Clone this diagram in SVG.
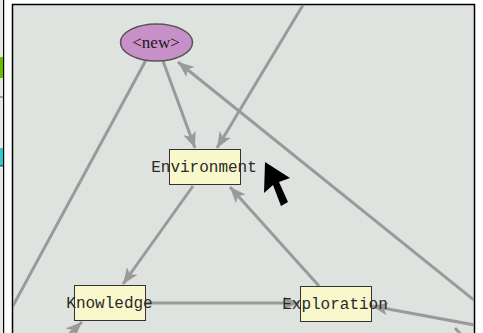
<svg xmlns="http://www.w3.org/2000/svg" width="483" height="333" viewBox="0 0 483 333">
  <style>
    .edge { fill: none; stroke: #9a9a9a; stroke-width: 3; }
    .box { fill: #f8f8cc; stroke: #333333; stroke-width: 1; }
    .oval { fill: #c890c8; stroke: #555555; stroke-width: 1.5; }
    .mono { font-family: "Liberation Mono", "Courier New", monospace; font-size: 16px; fill: #2a2a2a; }
    .serif { font-family: "Liberation Serif", "Times New Roman", serif; font-size: 17px; fill: #1a1a1a; }
  </style>
  <defs>
    <marker id="head" viewBox="0 0 16 13" markerWidth="16" markerHeight="13" refX="16" refY="6.5" orient="auto" markerUnits="userSpaceOnUse">
      <path d="M0,0 L16,6.5 L0,13 L4,6.5 z" fill="#9a9a9a"/>
    </marker>
    <clipPath id="panel">
      <rect x="13" y="5" width="461" height="328"/>
    </clipPath>
  </defs>

  <!-- window chrome -->
  <rect x="0" y="0" width="483" height="333" fill="#ffffff"/>
  <rect x="0" y="0" width="3" height="333" fill="#e6e8e6"/>
  <rect x="0" y="57" width="3" height="21" fill="#66c000"/>
  <rect x="0" y="96" width="3" height="2" fill="#a0a0a0"/>
  <rect x="0" y="148" width="3" height="17" fill="#33c8c8"/>
  <rect x="0" y="165" width="3" height="1.5" fill="#406060"/>
  <rect x="3" y="0" width="1.2" height="333" fill="#000000"/>

  <!-- canvas panel -->
  <rect x="12.5" y="4.5" width="462" height="340" fill="#dfe3df" stroke="#000000" stroke-width="1.5"/>

  <g id="connectors" clip-path="url(#panel)">
    <line class="edge" x1="146" y1="60" x2="0" y2="330"/>
    <line class="edge" x1="163" y1="61" x2="195" y2="148" marker-end="url(#head)"/>
    <line class="edge" x1="306" y1="0" x2="217" y2="148" marker-end="url(#head)"/>
    <line class="edge" x1="480" y1="305" x2="178" y2="62" marker-end="url(#head)"/>
    <line class="edge" x1="319" y1="286" x2="230" y2="187" marker-end="url(#head)"/>
    <line class="edge" x1="193" y1="186" x2="123" y2="284" marker-end="url(#head)"/>
    <line class="edge" x1="146" y1="303" x2="299" y2="303" marker-end="url(#head)"/>
    <line class="edge" x1="480" y1="326" x2="372" y2="306" marker-end="url(#head)"/>
    <line class="edge" x1="58" y1="345" x2="82" y2="322" marker-end="url(#head)"/>
    <line class="edge" x1="455" y1="328" x2="466" y2="340"/>
  </g>

  <g id="node-new">
    <ellipse class="oval" cx="156.5" cy="42.5" rx="36" ry="18.5"/>
    <text class="serif" x="156" y="48" text-anchor="middle">&lt;new&gt;</text>
  </g>

  <g id="node-environment">
    <rect class="box" x="169.5" y="149.5" width="71" height="35"/>
    <text class="mono" x="204" y="172" text-anchor="middle">Environment</text>
  </g>

  <g id="node-knowledge">
    <rect class="box" x="74.5" y="285.5" width="71" height="35"/>
    <text class="mono" x="109.5" y="308" text-anchor="middle">Knowledge</text>
  </g>

  <g id="node-exploration">
    <rect class="box" x="300.5" y="286.5" width="71" height="35"/>
    <text class="mono" x="335" y="309" text-anchor="middle">Exploration</text>
  </g>

  <!-- mouse pointer -->
  <polygon points="265,162 264,193 273,185 281,206 288,202 279,182 290,178" fill="#000000"/>
</svg>
